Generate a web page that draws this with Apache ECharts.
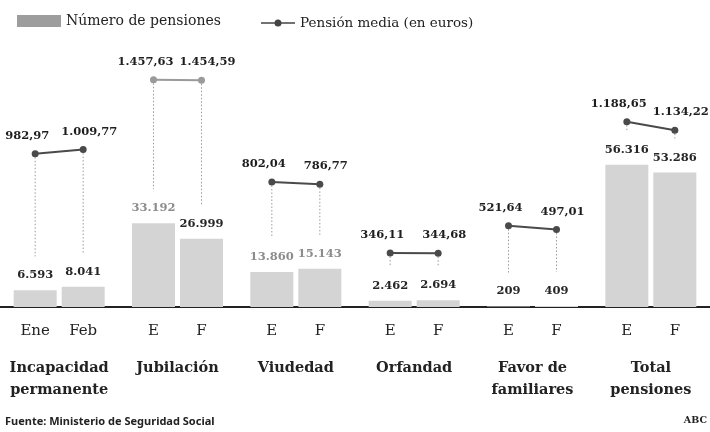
<!DOCTYPE html>
<html><head><meta charset="utf-8">
<script src="https://cdn.jsdelivr.net/npm/echarts@6/dist/echarts.min.js"></script>
<style>html,body{margin:0;padding:0;background:#fff}#c{width:710px;height:432px}</style>
</head><body><div id="c"></div>
<script>
// ---- data ----
const categories = ['Incapacidad\npermanente', 'Jubilación', 'Viudedad', 'Orfandad', 'Favor de\nfamiliares', 'Total\npensiones'];
const firstMonthLabels = ['Ene', 'E', 'E', 'E', 'E', 'E'];
const secondMonthLabels = ['Feb', 'F', 'F', 'F', 'F', 'F'];
const pensionsJan = [6593, 33192, 13860, 2462, 209, 56316];
const pensionsFeb = [8041, 26999, 15143, 2694, 409, 53286];
const avgJan = [982.97, 1457.63, 802.04, 346.11, 521.64, 1188.65];
const avgFeb = [1009.77, 1454.59, 786.77, 344.68, 497.01, 1134.22];

// ---- styling ----
const FONT = '"DejaVu Serif", "Liberation Serif", serif';
const BAR_MAX = 105000, LINE_MAX = 1700;
const BAR_W = 43, BAR_GAP = 5, HALF = (BAR_W + BAR_GAP) / 2;
const mutedJan = [false, true, true, false, false, false];
const mutedFeb = [false, false, true, false, false, false];
const lightLine = [false, true, false, false, false, false];

function group3(s) { return s.replace(/\B(?=(\d{3})+(?!\d))/g, '.'); }
function fmtInt(n) { return group3(String(Math.round(n))); }
function fmtDec(n) { const p = n.toFixed(2).split('.'); return group3(p[0]) + ',' + p[1]; }

const chart = echarts.init(document.getElementById('c'), null, {renderer: 'canvas'});

function barData(vals, muted) {
  return vals.map((v, i) => ({ value: v, label: { color: muted[i] ? '#8c8c8c' : '#262626' } }));
}

const barLabel = { show: true, position: 'top', distance: 9, fontFamily: FONT, fontSize: 11.5,
  fontWeight: 'bold', formatter: p => fmtInt(p.value) };

const option = {
  animation: false,
  backgroundColor: '#fff',
  grid: { left: 0, width: 718, top: 42, bottom: 125, containLabel: false },
  legend: [
    { left: 12, top: 9, itemWidth: 44, itemHeight: 12, itemGap: 10,
      selectedMode: false,
      textStyle: { fontFamily: FONT, fontSize: 14, color: '#222' },
      data: [{ name: 'Número de pensiones', icon: 'rect', itemStyle: { color: '#9d9d9d' } }] },
    { left: 256, top: 11, itemWidth: 34, itemHeight: 7, selectedMode: false,
      textStyle: { fontFamily: FONT, fontSize: 13.5, color: '#222' },
      data: [{ name: 'Pensión media (en euros)',
               icon: 'path://M0,2.8h34v1.4h-34z M17,0a3.5,3.5 0 1,1 0,7a3.5,3.5 0 1,1 0,-7z',
               itemStyle: { color: '#444' } }] }
  ],
  xAxis: [
    { type: 'category', data: categories, position: 'bottom',
      axisLine: { show: true, lineStyle: { color: '#222', width: 2 } },
      axisTick: { show: false },
      axisLabel: { interval: 0, margin: 17,
        formatter: (v, i) => '{a|' + firstMonthLabels[i] + '}{b|' + secondMonthLabels[i] + '}',
        rich: {
          a: { width: BAR_W + BAR_GAP, align: 'center', fontFamily: FONT, fontSize: 15, color: '#222' },
          b: { width: BAR_W + BAR_GAP, align: 'center', fontFamily: FONT, fontSize: 15, color: '#222' }
        } } },
    { type: 'category', data: categories, position: 'bottom',
      axisLine: { show: false }, axisTick: { show: false },
      axisLabel: { interval: 0, margin: 50, fontFamily: FONT, fontWeight: 'bold', fontSize: 14.5,
        lineHeight: 22, color: '#222', align: 'center' } }
  ],
  yAxis: [
    { type: 'value', min: 0, max: BAR_MAX, show: false, splitLine: { show: false } },
    { type: 'value', min: 0, max: LINE_MAX, show: false, splitLine: { show: false } }
  ],
  series: [
    { name: 'Número de pensiones', type: 'bar', xAxisIndex: 0, yAxisIndex: 0,
      barWidth: BAR_W, barGap: (BAR_GAP / BAR_W * 100).toFixed(2) + '%',
      itemStyle: { color: '#d4d4d4' },
      label: barLabel,
      data: barData(pensionsJan, mutedJan) },
    { name: 'Número de pensiones', type: 'bar', xAxisIndex: 0, yAxisIndex: 0,
      barWidth: BAR_W,
      itemStyle: { color: '#d4d4d4' },
      label: barLabel,
      data: barData(pensionsFeb, mutedFeb) },
    { name: 'Pensión media (en euros)', type: 'custom', xAxisIndex: 0, yAxisIndex: 1,
      itemStyle: { color: '#444' },
      encode: { x: 0, y: [1, 2] },
      data: categories.map((c, i) => [i, avgJan[i], avgFeb[i], pensionsJan[i], pensionsFeb[i]]),
      renderItem: function (params, api) {
        const i = api.value(0);
        const p1 = api.coord([i, api.value(1)]);
        const p2 = api.coord([i, api.value(2)]);
        const b1 = api.coord([i, api.value(3) * LINE_MAX / BAR_MAX]);
        const b2 = api.coord([i, api.value(4) * LINE_MAX / BAR_MAX]);
        const x1 = p1[0] - HALF, x2 = p2[0] + HALF;
        const col = lightLine[i] ? '#9a9a9a' : '#4a4a4a';
        const dot = { stroke: '#9a9a9a', lineWidth: 1, lineDash: [1.5, 2] };
        const txt = (t, x, y) => ({ type: 'text', x: x, y: y,
          style: { text: t, font: 'bold 11.5px ' + FONT, fill: '#1e1e1e',
                   align: 'center', verticalAlign: 'middle', textAlign: 'center', textVerticalAlign: 'middle' } });
        return { type: 'group', children: [
          { type: 'line', shape: { x1: x1, y1: p1[1], x2: x1, y2: b1[1] - 34 }, style: dot },
          { type: 'line', shape: { x1: x2, y1: p2[1], x2: x2, y2: b2[1] - 34 }, style: dot },
          { type: 'line', shape: { x1: x1, y1: p1[1], x2: x2, y2: p2[1] }, style: { stroke: col, lineWidth: 2 } },
          { type: 'circle', shape: { cx: x1, cy: p1[1], r: 3.5 }, style: { fill: col } },
          { type: 'circle', shape: { cx: x2, cy: p2[1], r: 3.5 }, style: { fill: col } },
          txt(fmtDec(api.value(1)), x1 - 8, p1[1] - 18),
          txt(fmtDec(api.value(2)), x2 + 6, p2[1] - 18)
        ] };
      } }
  ],
  graphic: [
    { type: 'text', left: 5, top: 416,
      style: { text: 'Fuente: Ministerio de Seguridad Social', font: 'bold 11px "Noto Sans", sans-serif', fill: '#222' } },
    { type: 'text', right: 3, top: 416,
      style: { text: 'ABC', font: 'bold 9.5px ' + FONT, fill: '#222' } }
  ]
};
chart.setOption(option);
</script>
</body></html>
